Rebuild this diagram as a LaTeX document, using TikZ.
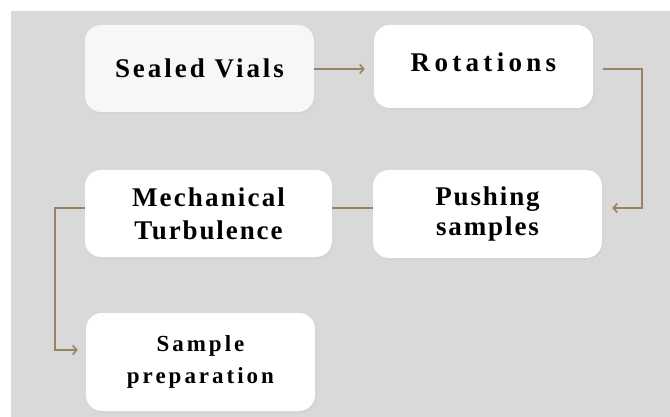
\documentclass[tikz,border=0pt]{standalone}
\usepackage{fontspec}
\usetikzlibrary{arrows.meta,shadows}
\setmainfont{Liberation Serif}
\definecolor{panelgray}{HTML}{D9D9D9}
\definecolor{linkbrown}{HTML}{9A8262}
\newcommand{\spaced}[1]{\addfontfeature{LetterSpace=#1}}
\begin{document}
\begin{tikzpicture}[x=1pt, y=-1pt,
	stepbox/.style={draw=none, fill=white, rounded corners=16pt, align=center,
		font=\bfseries\fontsize{27}{32}\selectfont, minimum width=229pt, minimum height=87pt,
		drop shadow={opacity=0.06, shadow xshift=1.5pt, shadow yshift=-2pt}},
	link/.style={draw=linkbrown, line width=1.6pt},
	tip/.style={-{Straight Barb[length=4pt, width=9pt]}}]
	\useasboundingbox (0, 0) rectangle (670, 417);
	\fill[panelgray] (11, 11) rectangle (670, 417);

	\node[stepbox, fill=white!97!black] (vials) at (199.5, 68.5) {\spaced{11}Sealed Vials};
	\node[stepbox, text depth=8pt, minimum width=219pt, minimum height=83pt] (rot) at (483.5, 66.5) {\spaced{16}Rotations};
	\node[stepbox, minimum width=247pt, font=\bfseries\fontsize{27}{33}\selectfont] (mech) at (208.5, 213.5) {\spaced{8}Mechanical\\\spaced{7}Turbulence};
	\node[stepbox, minimum height=88pt, font=\bfseries\fontsize{27}{30}\selectfont] (push) at (487.5, 214) {\spaced{7}Pushing\\\spaced{7}samples};
	\node[stepbox, minimum height=98pt, font=\bfseries\fontsize{23}{32}\selectfont] (prep) at (200.5, 362) {\spaced{13}Sample\\\spaced{13}preparation};

	\coordinate (vr) at ([yshift=-0.5pt]vials.east);
	\draw[link, tip, shorten >=9pt] (vr) -- (vr -| rot.west);
	\draw[link, tip] ([xshift=10pt, yshift=-2.5pt]rot.east) -- ++(39, 0) |- ([xshift=10pt, yshift=6pt]push.east);
	\draw[link] ([yshift=6pt]push.west) -- ([yshift=5.5pt]mech.east);
	\draw[link, tip] ([yshift=5.5pt]mech.west) -- ++(-30, 0) |- ([xshift=-8pt, yshift=12pt]prep.west);
\end{tikzpicture}
\end{document}
